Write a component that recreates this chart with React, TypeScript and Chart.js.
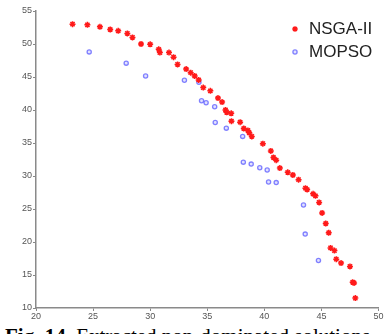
import React, { useEffect, useRef } from "react";
import { Chart, registerables } from "chart.js";

Chart.register(...registerables);

const nsgaX = [23.2, 24.5, 25.6, 26.5, 27.2, 28.0, 28.45, 29.2, 30.0, 30.75, 30.85, 31.65, 32.05, 32.4, 33.15, 33.55, 33.9, 34.25, 34.65, 35.27, 35.94, 36.3, 36.6, 36.7, 37.1, 37.12, 37.88, 38.2, 38.56, 38.68, 38.9, 39.87, 40.57, 40.8, 41.04, 41.36, 42.05, 42.5, 43.0, 43.6, 43.75, 44.27, 44.48, 44.8, 45.06, 45.38, 45.64, 45.8, 46.14, 46.3, 46.72, 47.5, 47.74, 47.86, 47.97];
const nsgaY = [53.0, 52.9, 52.6, 52.2, 52.0, 51.6, 51.0, 50.0, 49.95, 49.2, 48.7, 48.7, 48.0, 46.9, 46.2, 45.65, 45.15, 44.55, 43.4, 42.9, 41.8, 41.2, 40.0, 39.65, 39.5, 38.3, 38.15, 37.2, 36.9, 36.55, 36.0, 34.9, 33.8, 32.8, 32.4, 31.2, 30.55, 30.15, 29.45, 28.15, 27.95, 27.3, 27.0, 26.0, 24.4, 22.8, 21.4, 19.1, 18.7, 17.4, 16.8, 16.3, 13.9, 13.8, 11.5];
const mopsoX = [24.66, 27.9, 29.6, 33.0, 34.27, 34.5, 34.9, 35.65, 35.7, 36.67, 38.1, 38.16, 38.85, 39.6, 40.25, 40.37, 41.04, 43.43, 43.58, 44.74];
const mopsoY = [48.8, 47.1, 45.15, 44.5, 44.2, 41.4, 41.1, 40.5, 38.1, 37.25, 36.0, 32.1, 31.8, 31.25, 30.9, 29.1, 29.0, 25.6, 21.2, 17.2];
const seriesLabels = ["NSGA-II", "MOPSO"];
const captionBold = "Fig. 14.";
const captionText = " Extracted non-dominated solutions";

const RED = "#ff1a1a";
const BLUE = "rgba(90,90,255,0.75)";
const BLUE_FILL = "rgba(190,190,255,0.45)";

function drawStar(ctx: CanvasRenderingContext2D, x: number, y: number, r: number) {
  ctx.save();
  ctx.strokeStyle = RED;
  ctx.lineWidth = 1.5;
  ctx.beginPath();
  ctx.moveTo(x - r, y); ctx.lineTo(x + r, y);
  ctx.moveTo(x, y - r); ctx.lineTo(x, y + r);
  const d = r * 0.7;
  ctx.moveTo(x - d, y - d); ctx.lineTo(x + d, y + d);
  ctx.moveTo(x - d, y + d); ctx.lineTo(x + d, y - d);
  ctx.stroke();
  ctx.restore();
}

const legendPlugin = {
  id: "customLegend",
  afterDraw(chart: any) {
    const ctx = chart.ctx as CanvasRenderingContext2D;
    ctx.save();
    ctx.font = "17px 'Liberation Sans', Arial, sans-serif";
    ctx.fillStyle = "#222";
    ctx.textBaseline = "middle";
    ctx.textAlign = "left";
    drawStar(ctx, 295, 29, 2.8);
    ctx.fillText(seriesLabels[0], 309, 29);
    ctx.beginPath();
    ctx.arc(295, 52, 2.1, 0, Math.PI * 2);
    ctx.fillStyle = BLUE_FILL;
    ctx.fill();
    ctx.strokeStyle = BLUE;
    ctx.lineWidth = 1.3;
    ctx.stroke();
    ctx.fillStyle = "#222";
    ctx.fillText(seriesLabels[1], 309, 52);
    ctx.restore();
  },
};

export default function App() {
  const ref = useRef<HTMLCanvasElement>(null);
  useEffect(() => {
    if (!ref.current) return;
    const tickFont = { family: "'Liberation Sans', Arial, sans-serif", size: 9 };
    const chart = new Chart(ref.current, {
      type: "scatter",
      data: {
        datasets: [
          {
            label: seriesLabels[0],
            data: nsgaX.map((x, i) => ({ x, y: nsgaY[i] })),
            pointStyle: "star",
            radius: 3,
            borderWidth: 1.5,
            borderColor: RED,
            backgroundColor: RED,
          },
          {
            label: seriesLabels[1],
            data: mopsoX.map((x, i) => ({ x, y: mopsoY[i] })),
            pointStyle: "circle",
            radius: 2.1,
            borderWidth: 1.3,
            borderColor: BLUE,
            backgroundColor: BLUE_FILL,
          },
        ],
      },
      options: {
        animation: false,
        responsive: false,
        maintainAspectRatio: false,
        layout: { padding: { top: 11, right: 5, left: 0, bottom: 0 } },
        plugins: { legend: { display: false }, tooltip: { enabled: false } },
        scales: {
          x: {
            type: "linear",
            min: 20,
            max: 50,
            ticks: { stepSize: 5, font: tickFont, color: "#555", padding: 0, maxRotation: 0 },
            grid: { drawOnChartArea: false, drawTicks: true, tickLength: 3, color: "#888" },
            border: { color: "#8a8a8a", width: 1.5 },
            afterFit: (s: any) => { s.height = 12; },
          },
          y: {
            type: "linear",
            min: 10,
            max: 55,
            ticks: { stepSize: 5, font: tickFont, color: "#555", padding: 1 },
            grid: { drawOnChartArea: false, drawTicks: true, tickLength: 3, color: "#888" },
            border: { color: "#8a8a8a", width: 1.5 },
            afterFit: (s: any) => { s.width = 36; },
          },
        },
      } as any,
      plugins: [legendPlugin],
    });
    return () => chart.destroy();
  }, []);

  return (
    <div style={{ position: "absolute", left: 0, top: 0, width: 384, height: 334, overflow: "hidden", background: "#fff" }}>
      <canvas ref={ref} width={384} height={320} style={{ position: "absolute", left: 0, top: 0, width: 384, height: 320 }} />
      <div style={{ position: "absolute", left: 5, top: 326, whiteSpace: "nowrap", fontFamily: "'Liberation Serif', 'Times New Roman', serif", fontSize: 21, lineHeight: "21px", color: "#000" }}>
        <b>{captionBold}</b>{captionText}
      </div>
    </div>
  );
}
